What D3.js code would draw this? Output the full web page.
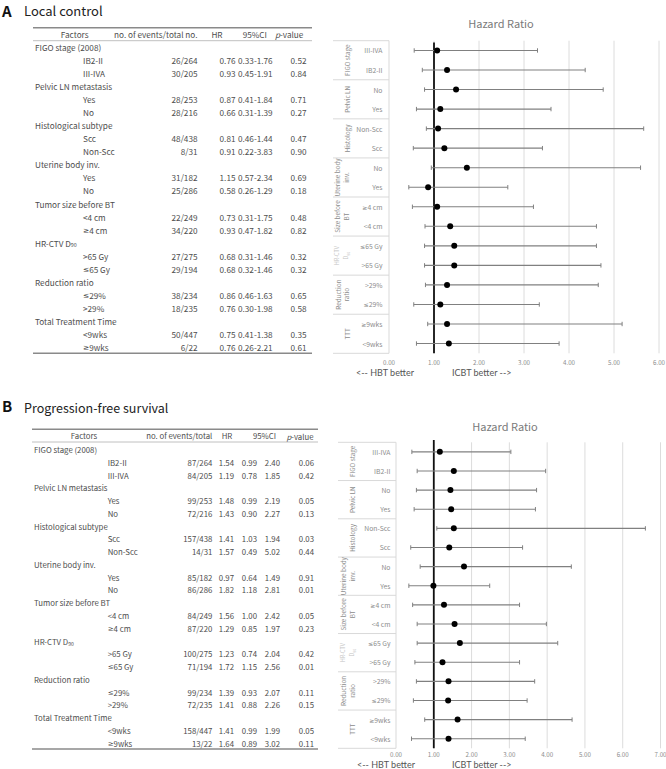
<!DOCTYPE html>
<html><head><meta charset="utf-8">
<script src="https://cdn.jsdelivr.net/npm/d3@7"></script>
<style>body{margin:0;background:#fff;} svg{display:block;font-family:"Noto Sans CJK JP","Noto Sans",sans-serif;}</style>
</head><body>
<script>
// ---------- DATA ----------
const tableGroups = ["FIGO stage (2008)","Pelvic LN metastasis","Histological subtype","Uterine body inv.","Tumor size before BT","HR-CTV D90","Reduction ratio","Total Treatment Time"];
const tableSubs = [["IB2-II","III-IVA"],["Yes","No"],["Scc","Non-Scc"],["Yes","No"],["<4 cm","≥4 cm"],[">65 Gy","≤65 Gy"],["≤29%",">29%"],["<9wks","≥9wks"]];

const eventsA = ["26/264","30/205","28/253","28/216","48/438","8/31","31/182","25/286","22/249","34/220","27/275","29/194","38/234","18/235","50/447","6/22"];
const hrA = [0.76,0.93,0.87,0.66,0.81,0.91,1.15,0.58,0.73,0.93,0.68,0.68,0.86,0.76,0.75,0.76];
const ciA = ["0.33-1.76","0.45-1.91","0.41-1.84","0.31-1.39","0.46-1.44","0.22-3.83","0.57-2.34","0.26-1.29","0.31-1.75","0.47-1.82","0.31-1.46","0.32-1.46","0.46-1.63","0.30-1.98","0.41-1.38","0.26-2.21"];
const pA = ["0.52","0.84","0.71","0.27","0.47","0.90","0.69","0.18","0.48","0.82","0.32","0.32","0.65","0.58","0.35","0.61"];

const eventsB = ["87/264","84/205","99/253","72/216","157/438","14/31","85/182","86/286","84/249","87/220","100/275","71/194","99/234","72/235","158/447","13/22"];
const hrB = [1.54,1.19,1.48,1.43,1.41,1.57,0.97,1.82,1.56,1.29,1.23,1.72,1.39,1.41,1.41,1.64];
const ciLowB = [0.99,0.78,0.99,0.90,1.03,0.49,0.64,1.18,1.00,0.85,0.74,1.15,0.93,0.88,0.99,0.89];
const ciHighB = [2.40,1.85,2.19,2.27,1.94,5.02,1.49,2.81,2.42,1.97,2.04,2.56,2.07,2.26,1.99,3.02];
const pB = ["0.06","0.42","0.05","0.13","0.03","0.44","0.91","0.01","0.05","0.23","0.42","0.01","0.11","0.15","0.05","0.11"];

// forest plots (top to bottom)
const forestGroups = [["FIGO stage"],["Pelvic LN"],["Histology"],["Uterine body","inv."],["Size before","BT"],["HR-CTV","D90"],["Reduction","ratio"],["TTT"]];
const forestSubs = [["III-IVA","IB2-II"],["No","Yes"],["Non-Scc","Scc"],["No","Yes"],["≥4 cm","<4 cm"],["≤65 Gy",">65 Gy"],[">29%","≤29%"],["≥9wks","<9wks"]];

const plotA = [1.07,1.29,1.49,1.14,1.09,1.23,1.73,0.87,1.07,1.36,1.45,1.45,1.29,1.14,1.29,1.33];
const lowA  = [0.56,0.74,0.79,0.61,0.83,0.54,0.94,0.44,0.52,0.80,0.79,0.79,0.81,0.55,0.86,0.61];
const highA = [3.30,4.36,4.76,3.60,5.66,3.41,5.59,2.64,3.21,4.61,4.61,4.71,4.65,3.34,5.18,3.78];
const ticksA = [0,1,2,3,4,5,6];

const plotB = [1.16,1.53,1.44,1.46,1.53,1.41,1.80,0.99,1.27,1.55,1.69,1.23,1.39,1.38,1.63,1.39];
const lowB  = [0.42,0.56,0.54,0.48,1.08,0.39,0.64,0.34,0.44,0.56,0.56,0.50,0.54,0.46,0.76,0.41];
const highB = [3.04,3.96,3.72,3.69,6.60,3.35,4.64,2.48,3.27,3.98,4.28,3.27,3.67,3.47,4.66,3.42];
const ticksB = [0,1,2,3,4,5,6,7];

// ---------- DRAW ----------
const svg = d3.select("body").append("svg").attr("width",666).attr("height",769);
const TXT = "#4d4d4d";

function label(g, txt, x, y, opts={}) {
  const size = opts.size||8;
  const t = g.append("text").attr("x",x).attr("y",y).attr("dominant-baseline","central")
    .attr("font-size",size).attr("fill",opts.fill||TXT).attr("text-anchor",opts.anchor||"start");
  if (opts.weight) t.attr("font-weight",opts.weight);
  if (opts.family) t.attr("font-family",opts.family);
  if (txt.endsWith("D90")) {
    t.append("tspan").text(txt.slice(0,-2));
    t.append("tspan").attr("font-size",size*0.65).attr("dy",2).text("90");
  } else {
    txt.split(/([≤≥])/).filter(s=>s.length).forEach(s => {
      const sp = t.append("tspan").text(s);
      if (s==="≤"||s==="≥") sp.attr("font-family","DejaVu Sans").attr("font-size",size*0.9);
    });
  }
  return t;
}

// Panel headings
label(svg,"A",2,9.5,{size:15,weight:"bold",fill:"#111"});
label(svg,"Local control",24,9.5,{size:13,fill:"#222"});
label(svg,"B",2,405,{size:15,weight:"bold",fill:"#111"});
label(svg,"Progression-free survival",24,407,{size:12.5,fill:"#222"});

function table(cfg) {
  const g = svg.append("g");
  const y = d3.scaleLinear().domain([0,23]).range([cfg.y0,cfg.y1]);
  g.append("line").attr("x1",cfg.xl).attr("x2",cfg.xr).attr("y1",cfg.top).attr("y2",cfg.top).attr("stroke","#8a8a8a").attr("stroke-width",1.5);
  g.append("line").attr("x1",cfg.xl).attr("x2",cfg.xr).attr("y1",cfg.hline).attr("y2",cfg.hline).attr("stroke","#b0b0b0").attr("stroke-width",0.8);
  g.append("line").attr("x1",cfg.xl).attr("x2",cfg.xr).attr("y1",cfg.bottom).attr("y2",cfg.bottom).attr("stroke","#8a8a8a").attr("stroke-width",1.5);
  cfg.headers.forEach(h => {
    const t = label(g,"",h.x,cfg.hy,{size:cfg.size,anchor:h.anchor});
    if (h.text==="p-value") { t.append("tspan").attr("font-style","italic").text("p"); t.append("tspan").text("-value"); }
    else t.text(h.text);
  });
  let r = 0, k = 0;
  tableGroups.forEach((grp,gi) => {
    label(g,grp,cfg.cx,y(r++),{size:cfg.size});
    tableSubs[gi].forEach(s => {
      const yy = y(r++);
      label(g,s,cfg.sx,yy,{size:cfg.size});
      cfg.cols.forEach(c => label(g,c.values[k],c.x,yy,{size:cfg.size,anchor:c.anchor}));
      k++;
    });
  });
}

table({xl:33,xr:312,top:27.7,hline:40.7,bottom:353.3,hy:34.3,y0:47,y1:347,cx:35,sx:83,size:8.2,
  headers:[{text:"Factors",x:74.7,anchor:"middle"},{text:"no. of events/total no.",x:197.5,anchor:"end"},
           {text:"HR",x:217,anchor:"middle"},{text:"95%CI",x:267,anchor:"end"},{text:"p-value",x:275,anchor:"start"}],
  cols:[{values:eventsA,x:197.5,anchor:"end"},{values:hrA.map(d=>d.toFixed(2)),x:235.5,anchor:"end"},
        {values:ciA,x:238,anchor:"start"},{values:pA,x:306.5,anchor:"end"}]});

table({xl:32,xr:318,top:429.3,hline:442,bottom:749,hy:435.5,y0:449,y1:742.7,cx:34,sx:107.7,size:7.8,
  headers:[{text:"Factors",x:84,anchor:"middle"},{text:"no. of events/total",x:212.3,anchor:"end"},
           {text:"HR",x:227,anchor:"middle"},{text:"95%CI",x:264.5,anchor:"middle"},{text:"p-value",x:313.5,anchor:"end"}],
  cols:[{values:eventsB,x:212.3,anchor:"end"},{values:hrB.map(d=>d.toFixed(2)),x:234,anchor:"end"},
        {values:ciLowB.map(d=>d.toFixed(2)),x:257,anchor:"end"},{values:ciHighB.map(d=>d.toFixed(2)),x:280,anchor:"end"},
        {values:pB,x:314,anchor:"end"}]});

function forest(cfg) {
  const g = svg.append("g");
  const x = d3.scaleLinear().domain([0,d3.max(cfg.ticks)]).range([cfg.x0,cfg.x1]);
  const rows = d3.range(16);
  const y = d3.scaleBand().domain(rows).range([cfg.top,cfg.bottom]);
  const gy = d3.scaleLinear().domain([0,8]).range([cfg.top,cfg.bottom]);
  label(g,"Hazard Ratio",cfg.titleX,cfg.titleY,{size:11,fill:"#7a7a7a",anchor:"middle"});
  g.selectAll(".grid").data(cfg.ticks.filter(t=>t>0)).join("line")
    .attr("x1",d=>x(d)).attr("x2",d=>x(d)).attr("y1",cfg.top).attr("y2",cfg.bottom)
    .attr("stroke","#dcdcdc").attr("stroke-width",1);
  g.selectAll(".sep").data(d3.range(9)).join("line")
    .attr("x1",cfg.boxL).attr("x2",x(0)).attr("y1",d=>gy(d)).attr("y2",d=>gy(d))
    .attr("stroke","#d9d9d9").attr("stroke-width",1);
  g.append("line").attr("x1",x(0)).attr("x2",x(0)).attr("y1",cfg.top).attr("y2",cfg.bottom).attr("stroke","#d9d9d9");
  forestGroups.forEach((lines,gi) => {
    const cy = (gy(gi)+gy(gi+1))/2;
    const xs = lines.length===1 ? [cfg.gx1] : cfg.gx2;
    const hr = lines[0]==="HR-CTV";
    lines.forEach((ln,li) => {
      label(g,ln,xs[li],cy,{size:hr?5.5:6.3,fill:hr?"#c4c4c4":"#8c8c8c",anchor:"middle"})
        .attr("transform",`rotate(-90,${xs[li]},${cy})`);
    });
    forestSubs[gi].forEach((s,si) => {
      label(g,s,cfg.subX,y(gi*2+si)+y.bandwidth()/2,{size:6.8,fill:"#8c8c8c",anchor:"end"});
    });
  });
  g.selectAll(".tick").data(cfg.ticks).join("text")
    .attr("x",d=>x(d)).attr("y",cfg.tickY).attr("dominant-baseline","central").attr("text-anchor","middle")
    .attr("font-size",6.2).attr("fill","#8c8c8c").text(d=>d3.format(".2f")(d));
  label(g,"<-- HBT better",cfg.hbtX,cfg.noteY,{size:9,fill:"#555",family:"Lato"});
  label(g,"ICBT better -->",cfg.icbtX,cfg.noteY,{size:9,fill:"#555",family:"Lato"});
  g.append("line").attr("x1",x(1)).attr("x2",x(1)).attr("y1",cfg.refTop).attr("y2",cfg.bottom)
    .attr("stroke","#111").attr("stroke-width",1.8);
  const cy = i => y(i)+y.bandwidth()/2;
  g.selectAll(".eb").data(rows).join("line")
    .attr("x1",i=>x(cfg.low[i])).attr("x2",i=>x(cfg.high[i])).attr("y1",cy).attr("y2",cy)
    .attr("stroke","#808080").attr("stroke-width",1.1);
  ["low","high"].forEach(k => {
    g.selectAll(".cap"+k).data(rows).join("line")
      .attr("x1",i=>x(cfg[k][i])).attr("x2",i=>x(cfg[k][i]))
      .attr("y1",i=>cy(i)-2.2).attr("y2",i=>cy(i)+2.2)
      .attr("stroke","#808080").attr("stroke-width",1);
  });
  g.selectAll(".pt").data(rows).join("circle")
    .attr("cx",i=>x(cfg.pt[i])).attr("cy",cy).attr("r",3).attr("fill","#000");
}

forest({ticks:ticksA,x0:389,x1:659,top:40.7,bottom:353.3,refTop:42.5,boxL:333,subX:382.5,gx1:347,gx2:[337.5,346],
  titleX:501,titleY:23.3,tickY:362,noteY:372,hbtX:356,icbtX:452,pt:plotA,low:lowA,high:highA});
forest({ticks:ticksB,x0:396,x1:660.5,top:442.3,bottom:748.3,refTop:440,boxL:338,subX:390.5,gx1:352,gx2:[343.5,352.5],
  titleX:505,titleY:425.7,tickY:754,noteY:764,hbtX:357,icbtX:452,pt:plotB,low:lowB,high:highB});
</script>
</body></html>
